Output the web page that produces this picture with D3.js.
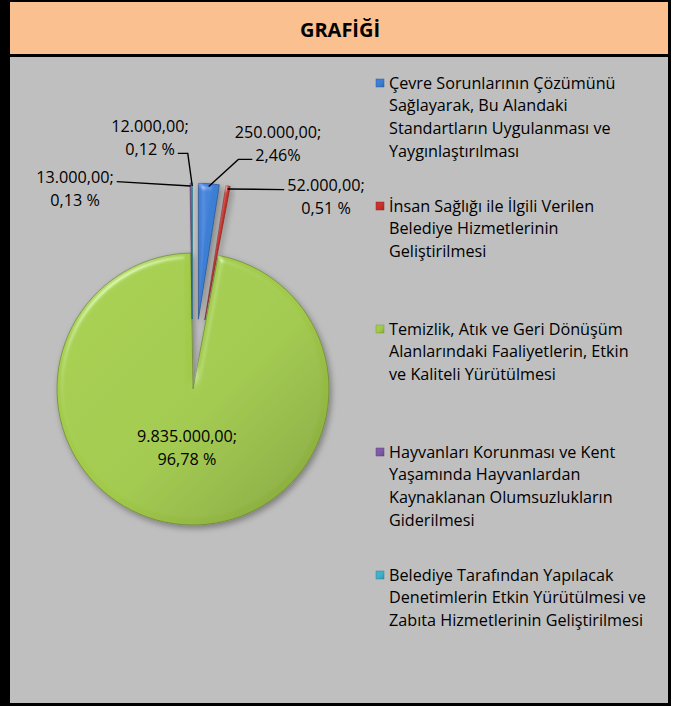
<!DOCTYPE html>
<html>
<head>
<meta charset="utf-8">
<script src="https://cdn.jsdelivr.net/npm/d3@7"></script>
<style>
  body { margin: 0; background: #fff; }
  text { font-family: "Open Sans", Lato, sans-serif; fill: #000; }
</style>
</head>
<body>
<div id="chart"></div>
<script>
// data
const title = "GRAFİĞİ";
const categories = [
  "Çevre Sorunlarının Çözümünü\nSağlayarak, Bu Alandaki\nStandartların Uygulanması ve\nYaygınlaştırılması",
  "İnsan Sağlığı ile İlgili Verilen\nBelediye Hizmetlerinin\nGeliştirilmesi",
  "Temizlik, Atık ve Geri Dönüşüm\nAlanlarındaki Faaliyetlerin, Etkin\nve Kaliteli Yürütülmesi",
  "Hayvanları Korunması ve Kent\nYaşamında Hayvanlardan\nKaynaklanan Olumsuzlukların\nGiderilmesi",
  "Belediye Tarafından Yapılacak\nDenetimlerin Etkin Yürütülmesi ve\nZabıta Hizmetlerinin Geliştirilmesi"
];
const values = [250000, 52000, 9835000, 13000, 12000];
const pctSuffix = ["%", " %", " %", " %", " %"];

// style / layout
const colors = ["#3b7ed3", "#c8302a", "#a1c94a", "#7d5aa6", "#3fb0c9"];
const W = 687, H = 706;
const cx = 193, cy = 389, R = 136;
const explodeBy = [70, 70, 0, 70, 70];
const labelAt = [[278, 144], [326, 197], [187, 448], [75, 189], [150, 138]];
const leaders = [
  {side: "left", elbow: 14},
  {side: "left", elbow: 0},
  null,
  {side: "right", elbow: 0},
  {side: "right", elbow: 10}
];
const fontSize = 16.2, lineH = 22.8;

const tr = d3.formatLocale({decimal: ",", thousands: ".", grouping: [3], currency: ["", ""]});
const fmtVal = tr.format(",.2f");
const fmtPct = tr.format(".2f");
const total = d3.sum(values);

const svg = d3.select("#chart").append("svg")
  .attr("width", W)
  .attr("height", H);

const defs = svg.append("defs");

// frame
svg.append("rect").attr("width", 671).attr("height", H).attr("fill", "#000");
svg.append("rect").attr("x", 10).attr("y", 2).attr("width", 658).attr("height", 52).attr("fill", "#fac090");
svg.append("rect").attr("x", 10).attr("y", 57).attr("width", 658).attr("height", 646).attr("fill", "#bfbfbf");

svg.append("text")
  .attr("x", 340)
  .attr("y", 37)
  .attr("text-anchor", "middle")
  .style("font-size", "20px")
  .style("font-weight", 700)
  .text(title);

// effects
const shadow = defs.append("filter").attr("id", "shadow")
  .attr("x", "-20%").attr("y", "-20%").attr("width", "140%").attr("height", "140%");
shadow.append("feDropShadow")
  .attr("dx", 2).attr("dy", 3).attr("stdDeviation", 3)
  .attr("flood-color", "#000").attr("flood-opacity", 0.35);

const bevel = defs.append("filter").attr("id", "bevel")
  .attr("x", "-10%").attr("y", "-10%").attr("width", "120%").attr("height", "120%");
bevel.append("feGaussianBlur").attr("in", "SourceAlpha").attr("stdDeviation", 3).attr("result", "blur");
bevel.append("feSpecularLighting")
  .attr("in", "blur").attr("surfaceScale", 4).attr("specularConstant", 0.6)
  .attr("specularExponent", 30).attr("lighting-color", "#fff").attr("result", "spec")
  .append("feDistantLight").attr("azimuth", 235).attr("elevation", 40);
bevel.append("feComposite").attr("in", "spec").attr("in2", "SourceAlpha").attr("operator", "in").attr("result", "specOut");
bevel.append("feComposite").attr("in", "SourceGraphic").attr("in2", "specOut")
  .attr("operator", "arithmetic").attr("k1", 0).attr("k2", 1).attr("k3", 0.5).attr("k4", 0);

colors.forEach((c, i) => {
  const g = defs.append("linearGradient").attr("id", "grad" + i)
    .attr("x1", 0).attr("y1", 0).attr("x2", 1).attr("y2", 1);
  g.append("stop").attr("offset", 0).attr("stop-color", d3.color(c).brighter(0.1));
  g.append("stop").attr("offset", 0.55).attr("stop-color", c);
  g.append("stop").attr("offset", 1).attr("stop-color", d3.color(c).darker(0.55));
});

// pie
const arcs = d3.pie().sort(null).value(d => d)(values);
const arc = d3.arc().innerRadius(0).outerRadius(R);
const mid = d => (d.startAngle + d.endAngle) / 2;
const shift = (d, i) => [Math.sin(mid(d)) * explodeBy[i], -Math.cos(mid(d)) * explodeBy[i]];

const pieG = svg.append("g").attr("transform", `translate(${cx},${cy})`);

pieG.selectAll("g.slice")
  .data(arcs)
  .join("g")
    .attr("class", "slice")
    .attr("filter", "url(#shadow)")
    .attr("transform", (d, i) => `translate(${shift(d, i)})`)
  .append("path")
    .attr("d", arc)
    .attr("fill", (d, i) => `url(#grad${i})`)
    .attr("stroke", (d, i) => d3.color(colors[i]).darker(1.2))
    .attr("stroke-width", 0.7)
    .attr("filter", "url(#bevel)");

// data labels
const labelG = svg.append("g").style("font-size", fontSize + "px");

arcs.forEach((d, i) => {
  const [lx, ly] = labelAt[i];
  const lines = [fmtVal(values[i]) + ";", fmtPct(values[i] / total * 100) + pctSuffix[i]];
  const texts = labelG.append("g").selectAll("text")
    .data(lines)
    .join("text")
      .attr("x", lx)
      .attr("y", (s, k) => ly + (k - 0.5) * lineH + 5.5)
      .attr("text-anchor", "middle")
      .text(s => s);

  const ld = leaders[i];
  if (!ld) return;
  // leader leaves from the line facing the slice
  const k = ld.side === "left" ? (i === 0 ? 1 : 0) : (i === 3 ? 0 : 1);
  const bb = texts.nodes()[k].getBBox();
  const y0 = ly + (k - 0.5) * lineH + 4;
  const x0 = ld.side === "left" ? bb.x - 3 : bb.x + bb.width + 3;
  const x1 = ld.side === "left" ? x0 - ld.elbow : x0 + ld.elbow;
  const [sx, sy] = shift(d, i);
  const pr = R - 3;
  const px = cx + sx + Math.sin(mid(d)) * pr;
  const py = cy + sy - Math.cos(mid(d)) * pr;
  svg.append("path")
    .attr("d", d3.line()([[x0, y0], [x1, y0], [px, py]]))
    .attr("fill", "none")
    .attr("stroke", "#000")
    .attr("stroke-width", 1.4);
});

// legend
const legend = svg.append("g").style("font-size", fontSize + "px");
const legY = d3.scaleLinear().domain([0, categories.length - 1]).range([83, 575]);

categories.forEach((name, i) => {
  const y = legY(i);
  legend.append("rect")
    .attr("x", 376).attr("y", y - 4)
    .attr("width", 8).attr("height", 8)
    .attr("fill", `url(#grad${i})`)
    .attr("stroke", d3.color(colors[i]).darker(0.8))
    .attr("stroke-width", 0.5);
  legend.append("g").selectAll("text")
    .data(name.split("\n"))
    .join("text")
      .attr("x", 389)
      .attr("y", (s, k) => y + k * lineH + 5.5)
      .text(s => s);
});
</script>
</body>
</html>
